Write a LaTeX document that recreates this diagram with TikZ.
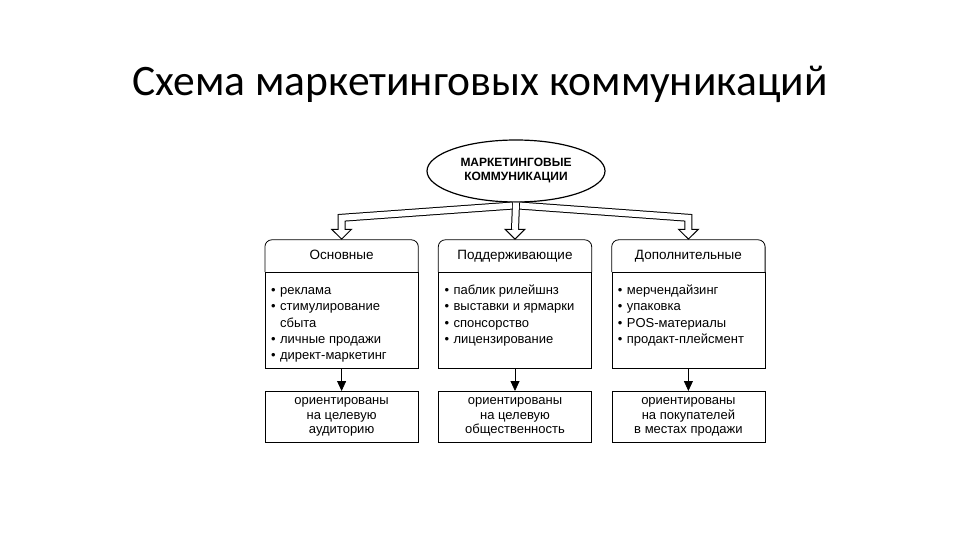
\documentclass[tikz,border=0pt]{standalone}
\usepackage{fontspec}
\setmainfont{Liberation Sans}
\newfontfamily\titlefont{Carlito}
\usepackage{tikz}
\usetikzlibrary{shapes.geometric, arrows.meta, positioning}
\tikzset{
  oval/.style={ellipse, draw=black, line width=1.2pt, minimum width=178pt, minimum height=62pt, align=center, inner sep=0pt, font=\fontsize{12}{14}\selectfont\bfseries},
  headbox/.style={rectangle, minimum width=153pt, minimum height=32pt, text height=9pt, text depth=3pt, text centered, font=\fontsize{13.5}{15}\selectfont},
  listbox/.style={rectangle, draw=black, line width=0.8pt, minimum width=153pt, inner xsep=6pt, inner ysep=5pt, font=\fontsize{13}{16.3}\selectfont},
  resultbox/.style={rectangle, draw=black, line width=0.8pt, minimum width=153pt, minimum height=51pt, align=center, font=\fontsize{13}{14.5}\selectfont},
  boxline/.style={line width=0.8pt, rounded corners=7pt},
  hollowline/.style={double=white, double distance=6pt, line width=1pt},
  hollowhead/.style={-{Triangle[open, width=22pt, length=11pt, fill=white]}, line width=1pt},
  arrowline/.style={-{Triangle[width=9pt, length=10pt]}, line width=0.8pt},
}
\newcommand{\itm}{\makebox[9pt][l]{\textbullet}}
\newcommand{\lst}[1]{\parbox[t][86pt][t]{141pt}{\raggedright\rule{0pt}{17pt}#1}}

\begin{document}
\begin{tikzpicture}[x=1pt, y=-1pt, node distance=20pt]
\useasboundingbox (0,0) rectangle (960,540);
\node[anchor=base, font=\titlefont\fontsize{43.5}{50}\selectfont] (title) at (480,96) {Схема маркетинговых коммуникаций};
\node[oval] (mk) at (516,171) {МАРКЕТИНГОВЫЕ\\КОММУНИКАЦИИ};
\node[headbox] (hdrB) at (515,256) {Поддерживающие};
\node[headbox, left=of hdrB] (hdrA) {Основные};
\node[headbox, right=of hdrB] (hdrC) {Дополнительные};
\node[listbox, below=0pt of hdrA] (lstA) {\lst{\itm реклама\\ \itm стимулирование\\ \hspace*{9pt}сбыта\\ \itm личные продажи\\ \itm директ-маркетинг}};
\node[listbox, below=0pt of hdrB] (lstB) {\lst{\itm паблик рилейшнз\\ \itm выставки и ярмарки\\ \itm спонсорство\\ \itm лицензирование}};
\node[listbox, below=0pt of hdrC] (lstC) {\lst{\itm мерчендайзинг\\ \itm упаковка\\ \itm POS-материалы\\ \itm продакт-плейсмент}};
\node[resultbox, below=22pt of lstA] (resA) {ориентированы\\на целевую\\аудиторию};
\node[resultbox, below=22pt of lstB] (resB) {ориентированы\\на целевую\\общественность};
\node[resultbox, below=22pt of lstC] (resC) {ориентированы\\на покупателей\\в местах продажи};

\foreach \c in {A,B,C} {
  \draw[boxline] (hdr\c.south west) -- (hdr\c.north west) -- (hdr\c.north east) -- (hdr\c.south east);
  \draw[arrowline] (lst\c) -- (res\c);
  \draw[hollowhead] ([yshift=12pt]hdr\c.north) -- (hdr\c.north);
}
\draw[hollowline] (mk.south) -- ([yshift=10pt]hdrB.north);
\draw[hollowline] ([xshift=-4pt, yshift=-3pt]mk.south) -- ([yshift=22pt]hdrA.north) -- ([yshift=10pt]hdrA.north);
\draw[hollowline] ([xshift=4pt, yshift=-3pt]mk.south) -- ([yshift=22pt]hdrC.north) -- ([yshift=10pt]hdrC.north);
\end{tikzpicture}
\end{document}
